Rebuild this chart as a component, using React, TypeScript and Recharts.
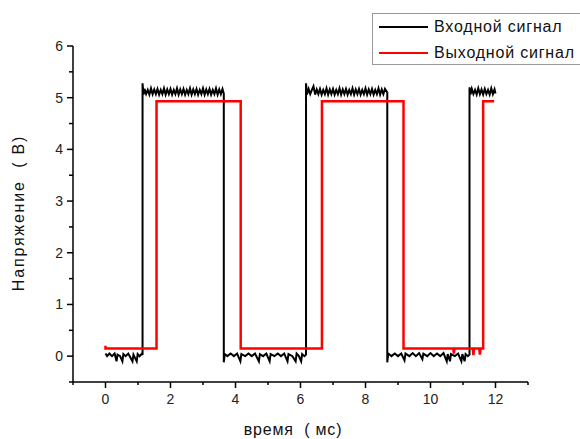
import { LineChart, Line, XAxis, YAxis } from "recharts"

// time (ms), voltage (V)
const inputSignal: [number, number][] = [
  [0, 0.05], [0.05, 0.0], [0.12, 0.05], [0.2, 0.0], [0.28, 0.05], [0.34, -0.1], [0.37, 0.03], [0.45, 0.0],
  [0.52, -0.1], [0.55, 0.04], [0.62, 0.0], [0.7, 0.05], [0.83, -0.1], [0.86, 0.03], [0.96, -0.1], [0.99, 0.04],
  [1.05, 0.0], [1.12, 0.05], [1.14, 0.02],
  [1.14, 5.28], [1.17, 5.06], [1.2, 5.17], [1.25, 5.07], [1.3, 5.15], [1.35, 5.06], [1.4, 5.18], [1.45, 5.07],
  [1.5, 5.16], [1.55, 5.07], [1.6, 5.17], [1.65, 5.06], [1.7, 5.15], [1.75, 5.07], [1.8, 5.18], [1.85, 5.06],
  [1.9, 5.16], [1.95, 5.07], [2.0, 5.17], [2.05, 5.06], [2.1, 5.15], [2.15, 5.07], [2.2, 5.18], [2.25, 5.06],
  [2.3, 5.16], [2.35, 5.07], [2.4, 5.17], [2.45, 5.06], [2.5, 5.15], [2.55, 5.07], [2.6, 5.18], [2.65, 5.06],
  [2.7, 5.16], [2.75, 5.07], [2.8, 5.17], [2.85, 5.06], [2.9, 5.15], [2.95, 5.07], [3.0, 5.18], [3.05, 5.06],
  [3.1, 5.16], [3.15, 5.07], [3.2, 5.17], [3.25, 5.06], [3.3, 5.15], [3.35, 5.07], [3.4, 5.18], [3.45, 5.06],
  [3.5, 5.16], [3.55, 5.07], [3.6, 5.17], [3.64, 5.08],
  [3.64, -0.12], [3.67, 0.04], [3.75, 0.0], [3.85, 0.05], [3.95, 0.0], [4.05, 0.05], [4.15, -0.1], [4.18, 0.04],
  [4.3, 0.0], [4.4, 0.05], [4.5, 0.0], [4.6, 0.05], [4.72, -0.1], [4.75, 0.04], [4.85, 0.0], [4.95, 0.05],
  [5.05, -0.1], [5.08, 0.04], [5.2, 0.0], [5.3, 0.05], [5.4, 0.0], [5.5, 0.05], [5.6, -0.1], [5.63, 0.04],
  [5.75, 0.0], [5.85, -0.1], [5.88, 0.05], [5.95, 0.0], [6.02, -0.1], [6.05, 0.04], [6.12, 0.0], [6.17, 0.03],
  [6.17, 5.28], [6.2, 5.06], [6.25, 5.17], [6.3, 5.07], [6.35, 5.15], [6.4, 5.22], [6.45, 5.06], [6.5, 5.16],
  [6.55, 5.07], [6.6, 5.17], [6.65, 5.06], [6.7, 5.15], [6.75, 5.07], [6.8, 5.18], [6.85, 5.06], [6.9, 5.16],
  [6.95, 5.07], [7.0, 5.17], [7.05, 5.06], [7.1, 5.15], [7.15, 5.07], [7.2, 5.18], [7.25, 5.06], [7.3, 5.16],
  [7.35, 5.07], [7.4, 5.17], [7.45, 5.06], [7.5, 5.15], [7.55, 5.07], [7.6, 5.18], [7.65, 5.06], [7.7, 5.16],
  [7.75, 5.07], [7.8, 5.17], [7.85, 5.06], [7.9, 5.15], [7.95, 5.07], [8.0, 5.18], [8.05, 5.06], [8.1, 5.16],
  [8.15, 5.07], [8.2, 5.17], [8.25, 5.06], [8.3, 5.15], [8.35, 5.07], [8.4, 5.18], [8.45, 5.06], [8.5, 5.16],
  [8.55, 5.07], [8.6, 5.17], [8.67, 5.1],
  [8.67, -0.12], [8.7, 0.05], [8.8, 0.0], [8.9, 0.05], [9.0, 0.0], [9.1, 0.05], [9.2, -0.08], [9.23, 0.05],
  [9.35, 0.0], [9.45, 0.06], [9.55, 0.0], [9.65, 0.06], [9.75, -0.06], [9.78, 0.05], [9.9, 0.0], [10.0, 0.06],
  [10.1, 0.0], [10.2, 0.05], [10.3, 0.0], [10.4, 0.06], [10.5, -0.1], [10.53, 0.04], [10.6, -0.1], [10.63, 0.04],
  [10.75, 0.0], [10.85, 0.05], [10.95, -0.1], [10.98, 0.04], [11.05, -0.1], [11.08, 0.04], [11.15, 0.0], [11.2, 0.03],
  [11.2, 5.2], [11.23, 5.06], [11.27, 5.17], [11.32, 5.07], [11.37, 5.15], [11.42, 5.06], [11.47, 5.18],
  [11.52, 5.07], [11.57, 5.16], [11.62, 5.06], [11.67, 5.17], [11.72, 5.07], [11.77, 5.15], [11.82, 5.06],
  [11.87, 5.18], [11.92, 5.07], [11.97, 5.16], [12.0, 5.08],
]

const outputSignal: [number, number][] = [
  [0, 0.2], [0, 0.15], [1.57, 0.15], [1.57, 4.93], [4.16, 4.93], [4.16, 0.15], [6.66, 0.15], [6.66, 4.93],
  [9.17, 4.93], [9.17, 0.15], [10.7, 0.15], [10.72, 0.05], [10.74, 0.15], [11.3, 0.15], [11.32, 0.02],
  [11.34, 0.15], [11.5, 0.15], [11.52, 0.03], [11.54, 0.15], [11.62, 0.15], [11.62, 4.93], [11.96, 4.93],
]

const xTicks = [-1, 0, 1, 2, 3, 4, 5, 6, 7, 8, 9, 10, 11, 12, 13]
const yTicks = [-0.5, 0, 0.5, 1, 1.5, 2, 2.5, 3, 3.5, 4, 4.5, 5, 5.5, 6]
const xLabels = [0, 2, 4, 6, 8, 10, 12]
const yLabels = [0, 1, 2, 3, 4, 5, 6]

const seriesNames = ["Входной сигнал", "Выходной сигнал"]
const seriesColors = ["#000000", "#ff0000"]

const font = '"Liberation Sans", Arial, sans-serif'

const toRows = (pts: [number, number][]) => pts.map(([t, v]) => ({ t, v }))

const XTick = (props: any) => {
  const { x, y, payload } = props
  const axisY = y - 12
  const major = xLabels.includes(payload.value)
  return (
    <g>
      <line x1={x} x2={x} y1={axisY} y2={axisY + (major ? 6 : 3)} stroke="#000" strokeWidth={1.5} />
      {major && (
        <text x={x} y={y} dy={10} textAnchor="middle" fontSize={14} fill="#222" fontFamily={font}>
          {payload.value}
        </text>
      )}
    </g>
  )
}

const YTick = (props: any) => {
  const { x, y, payload } = props
  const axisX = x + 10
  const major = yLabels.includes(payload.value)
  return (
    <g>
      <line x1={axisX - (major ? 6 : 4)} x2={axisX} y1={y} y2={y} stroke="#000" strokeWidth={1.5} />
      {major && (
        <text x={x} y={y} dy={5} textAnchor="end" fontSize={14} fill="#222" fontFamily={font}>
          {payload.value}
        </text>
      )}
    </g>
  )
}

const LegendBox = () => (
  <div
    style={{
      position: "absolute",
      left: 372,
      top: 13,
      border: "1px solid #999",
      background: "#fff",
      width: 230,
      height: 52,
      boxSizing: "border-box",
      fontFamily: font,
      fontSize: 16,
      letterSpacing: 0.8,
      color: "#111",
      paddingTop: 1,
    }}
  >
    {seriesNames.map((name, i) => (
      <div key={name} style={{ display: "flex", alignItems: "center", height: 24, marginTop: i ? 2 : 0 }}>
        <div style={{ width: 49, height: 2, background: seriesColors[i], marginLeft: 6, marginRight: 6 }} />
        <span style={{ whiteSpace: "nowrap" }}>{name}</span>
      </div>
    ))}
  </div>
)

export default function App() {
  return (
    <div style={{ position: "absolute", left: 0, top: 0, width: 580, height: 439, overflow: "hidden", background: "#fff" }}>
      <LineChart width={580} height={439} margin={{ top: 46, right: 52, bottom: 27, left: 33 }}>
        <XAxis
          type="number"
          dataKey="t"
          domain={[-1, 13]}
          ticks={xTicks}
          interval={0}
          allowDataOverflow
          height={30}
          tickSize={6}
          tickMargin={6}
          tickLine={false}
          axisLine={{ stroke: "#000", strokeWidth: 1.5 }}
          tick={<XTick />}
        />
        <YAxis
          type="number"
          dataKey="v"
          domain={[-0.5, 6]}
          ticks={yTicks}
          interval={0}
          allowDataOverflow
          width={40}
          tickSize={6}
          tickMargin={4}
          tickLine={false}
          axisLine={{ stroke: "#000", strokeWidth: 1.5 }}
          tick={<YTick />}
        />
        <Line
          data={toRows(inputSignal)}
          dataKey="v"
          name={seriesNames[0]}
          stroke={seriesColors[0]}
          strokeWidth={2}
          dot={false}
          type="linear"
          isAnimationActive={false}
        />
        <Line
          data={toRows(outputSignal)}
          dataKey="v"
          name={seriesNames[1]}
          stroke={seriesColors[1]}
          strokeWidth={2.5}
          dot={false}
          type="linear"
          isAnimationActive={false}
        />
      </LineChart>
      <LegendBox />
      <svg width={580} height={439} style={{ position: "absolute", left: 0, top: 0, pointerEvents: "none" }}>
        <text
          x={293}
          y={435}
          textAnchor="middle"
          fontSize={16}
          letterSpacing={0.8}
          fill="#111"
          fontFamily={font}
          style={{ whiteSpace: "pre" }}
        >
          {"время  ( мс)"}
        </text>
        <text
          transform="translate(24,213) rotate(-90)"
          textAnchor="middle"
          fontSize={16}
          letterSpacing={1.8}
          fill="#111"
          fontFamily={font}
          style={{ whiteSpace: "pre" }}
        >
          {"Напряжение  ( В)"}
        </text>
      </svg>
    </div>
  )
}
